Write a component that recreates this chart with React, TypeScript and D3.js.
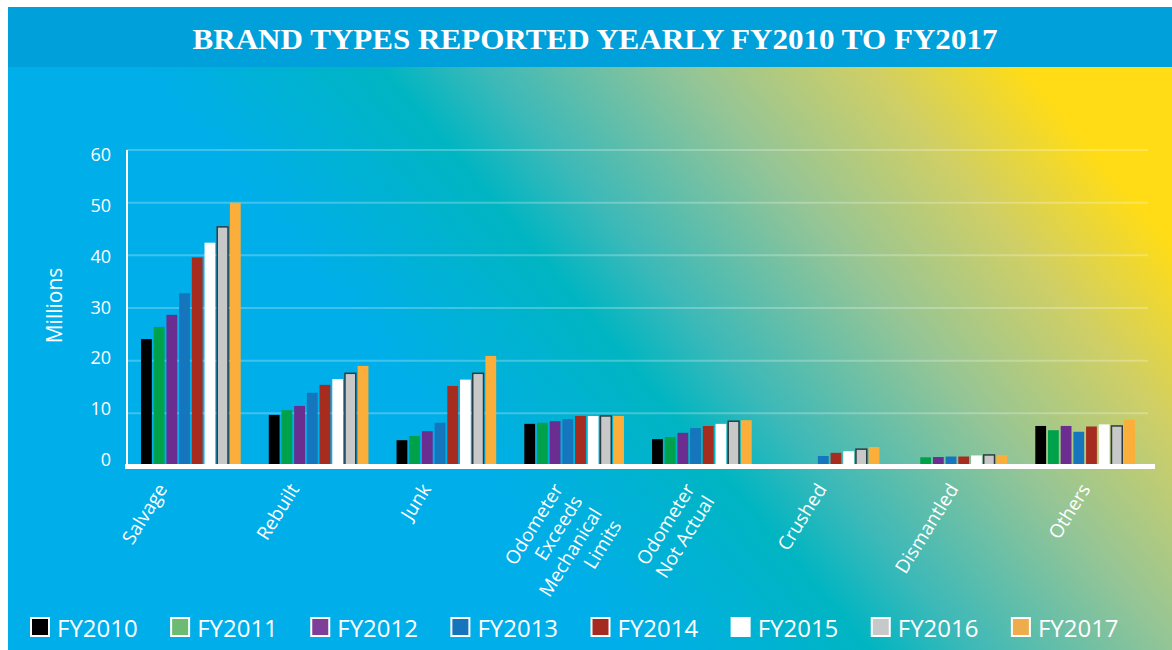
import React from 'react';
import * as d3 from 'd3';

// brand categories (each label split into its printed lines)
const categoryLines = [
  ['Salvage'],
  ['Rebuilt'],
  ['Junk'],
  ['Odometer', 'Exceeds', 'Mechanical', 'Limits'],
  ['Odometer', 'Not Actual'],
  ['Crushed'],
  ['Dismantled'],
  ['Others'],
];
const categories = categoryLines.map(l => l.join(' '));

const years = ['FY2010', 'FY2011', 'FY2012', 'FY2013', 'FY2014', 'FY2015', 'FY2016', 'FY2017'];

// millions, one value per category
const fy2010 = [24.1, 9.7, 4.9, 8.0, 5.1, 0, 0, 7.6];
const fy2011 = [26.4, 10.6, 5.7, 8.2, 5.5, 0, 1.65, 6.8];
const fy2012 = [28.7, 11.4, 6.6, 8.5, 6.3, 0, 1.7, 7.6];
const fy2013 = [32.8, 13.9, 8.2, 8.9, 7.2, 1.9, 1.8, 6.5];
const fy2014 = [39.6, 15.4, 15.2, 9.5, 7.6, 2.5, 1.8, 7.5];
const fy2015 = [42.4, 16.5, 16.4, 9.5, 8.0, 2.8, 2.0, 7.9];
const fy2016 = [45.4, 17.6, 17.6, 9.5, 8.5, 3.2, 2.1, 7.6];
const fy2017 = [50.0, 19.0, 20.9, 9.5, 8.7, 3.6, 2.1, 8.8];
const series = [fy2010, fy2011, fy2012, fy2013, fy2014, fy2015, fy2016, fy2017];

const yTicks = [0, 10, 20, 30, 40, 50, 60];

const barColors = ['#000000', '#00a14b', '#6b2d8f', '#1676bd', '#a62c1f', '#ffffff', '#c8c8c8', '#fbaf3a'];
const legendColors = ['#000000', '#6cbb72', '#7e3f98', '#1574bc', '#a52a1f', '#ffffff', '#c7c8ca', '#efac4a'];

const sans = '"Open Sans", "Noto Sans", sans-serif';

export default function App() {
  const W = 1172, H = 650;

  const x = d3.scaleBand().domain(categories).range([127, 1149]).paddingInner(0.22).paddingOuter(0.11);
  const xYear = d3.scaleBand().domain(years).range([0, x.bandwidth()]).paddingInner(0.15);
  const y = d3.scaleLinear().domain([0, 60]).range([466, 150]);
  const yLabel = d3.scaleLinear().domain([0, 60]).range([459.5, 155]);
  const xLabel = d3.scaleBand().domain(categories).range([102, 1157]);
  const legendX = d3.scaleBand().domain(years).range([30, 1151]);

  return (
    <svg width={W} height={H} style={{ position: 'absolute', left: 0, top: 0, display: 'block' }}>
      <defs>
        <linearGradient id="bg" gradientUnits="userSpaceOnUse" x1="0" y1="0" x2="598" y2="-501">
          <stop offset="0.08" stopColor="#00aeea" />
          <stop offset="0.32" stopColor="#00b5c2" />
          <stop offset="0.42" stopColor="#3db9b8" />
          <stop offset="0.62" stopColor="#95c596" />
          <stop offset="0.8" stopColor="#d0cf65" />
          <stop offset="0.95" stopColor="#ffdc16" />
        </linearGradient>
      </defs>
      <rect width={W} height={H} fill="#fff" />
      <rect x={8} y={7} width={W - 8} height={H - 7} fill="url(#bg)" />
      <rect x={8} y={7} width={W - 8} height={60} fill="#00a0db" />
      <text x={595} y={49} textAnchor="middle" fill="#fff" fontFamily='"Liberation Serif", "DejaVu Serif", serif'
        fontWeight="bold" fontSize={30} textLength={805} lengthAdjust="spacingAndGlyphs">
        BRAND TYPES REPORTED YEARLY FY2010 TO FY2017
      </text>

      {/* grid */}
      {yTicks.filter(t => t > 0).map(t => (
        <line key={t} x1={127} x2={1148} y1={y(t)} y2={y(t)} stroke="#fff" strokeOpacity={0.25} strokeWidth={2} />
      ))}
      {yTicks.map(t => (
        <text key={t} x={111} y={yLabel(t)} dy="0.36em" textAnchor="end" fill="#fff" fontFamily={sans} fontSize={18}>
          {t}
        </text>
      ))}
      <text transform="translate(54,305.5) rotate(-90)" textAnchor="middle" dy="0.36em" fill="#fff"
        fontFamily={sans} fontSize={21}>Millions</text>

      {/* bars */}
      {categories.map((c, ci) => (
        <g key={c} transform={`translate(${x(c)},0)`}>
          {years.map((yr, si) => {
            const v = series[si][ci];
            if (!v) return null;
            const gray = si === 6;
            return (
              <rect key={yr} x={xYear(yr)} y={y(v)} width={xYear.bandwidth()} height={y(0) - y(v)}
                fill={barColors[si]} stroke={gray ? '#2d3c44' : 'none'} strokeWidth={gray ? 1.5 : 0} />
            );
          })}
        </g>
      ))}

      <line x1={127} x2={127} y1={150} y2={466} stroke="#fff" strokeWidth={2} />
      <line x1={125} x2={1155} y1={466.5} y2={466.5} stroke="#fff" strokeWidth={5} />

      {/* category labels */}
      {categoryLines.map((lines, ci) => {
        const c = categories[ci];
        const lx = xLabel(c) + xLabel.bandwidth() / 2;
        return (
          <text key={c} transform={`translate(${lx},489) rotate(-58)`} textAnchor="end" fill="#fff"
            fontFamily={sans} fontSize={19}>
            {lines.map((ln, li) => (
              <tspan key={li} x={0} dy={li === 0 ? 0 : 23}>{ln}</tspan>
            ))}
          </text>
        );
      })}

      {/* legend */}
      {years.map((yr, i) => (
        <g key={yr} transform={`translate(${legendX(yr)},617)`}>
          <rect x={1} y={1} width={18} height={18} fill={legendColors[i]} stroke="#fff" strokeWidth={2} />
          <text x={27} y={20} fill="#fff" fontFamily={sans} fontSize={24}>{yr}</text>
        </g>
      ))}
    </svg>
  );
}
